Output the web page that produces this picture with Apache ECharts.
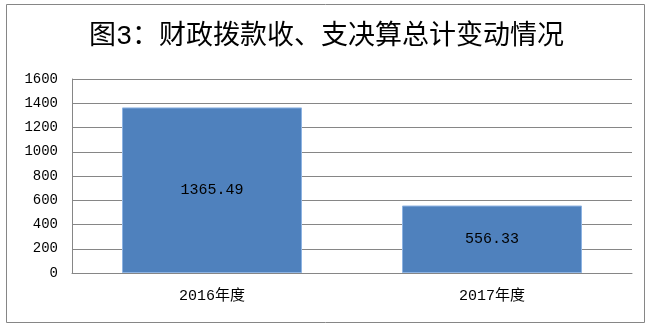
<!DOCTYPE html>
<html><head><meta charset="utf-8">
<script src="https://cdn.jsdelivr.net/npm/echarts@6/dist/echarts.min.js"></script>
<style>html,body{margin:0;padding:0;background:#fff}#c{width:653px;height:331px}</style>
</head><body><div id="c"></div>
<script>
const titleText = '图3：财政拨款收、支决算总计变动情况';
const categories = ['2016年度', '2017年度'];
const values = [1365.49, 556.33];
const yTicks = { min: 0, max: 1600, interval: 200 };

const font = '"Liberation Mono", "Noto Sans CJK SC", monospace';
const chart = echarts.init(document.getElementById('c'), null, { renderer: 'canvas' });
chart.setOption({
  backgroundColor: '#fff',
  animation: false,
  title: {
    text: titleText, left: 'center', top: 18,
    textStyle: { fontFamily: font, fontSize: 27, fontWeight: 'normal', color: '#000' }
  },
  graphic: [{
    type: 'rect', shape: { x: 6.5, y: 4.5, width: 638, height: 318 },
    style: { fill: 'none', stroke: '#868686', lineWidth: 1 }, silent: true, z: -1
  }],
  grid: { left: 72, right: 21, top: 79, bottom: 58 },
  xAxis: {
    type: 'category', data: categories,
    axisLine: { lineStyle: { color: '#868686' } },
    axisTick: { show: false },
    axisLabel: { fontFamily: font, fontSize: 15, color: '#000', margin: 16 }
  },
  yAxis: {
    type: 'value', min: yTicks.min, max: yTicks.max, interval: yTicks.interval,
    axisLine: { show: true, lineStyle: { color: '#868686' } },
    axisTick: { show: false },
    splitLine: { lineStyle: { color: '#868686' } },
    axisLabel: { fontFamily: font, fontSize: 14, color: '#000', margin: 14,
      formatter: function (v) { return String(v); } }
  },
  series: [{
    type: 'bar', data: values, barWidth: 180,
    itemStyle: { color: '#4F81BD', borderColor: '#8DB3E2', borderWidth: 1 },
    label: { show: true, position: 'inside', fontFamily: font, fontSize: 15, color: '#000' }
  }]
});
</script></body></html>
